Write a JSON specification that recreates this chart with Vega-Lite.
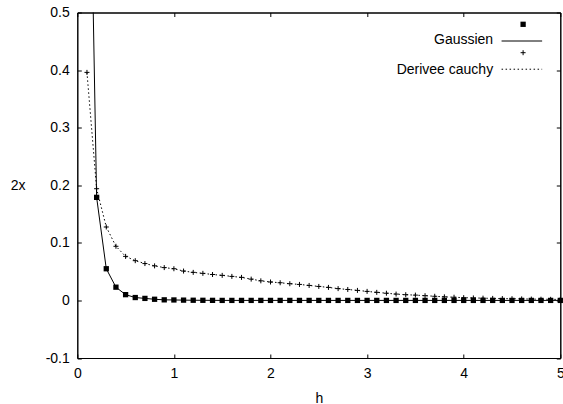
{
  "$schema": "https://vega.github.io/schema/vega-lite/v6.json",
  "width": 483,
  "height": 345.5,
  "autosize": {"type": "none"},
  "padding": {"left": 77.3, "top": 12.5, "right": 2.7, "bottom": 46},
  "background": "white",
  "config": {
    "view": {"stroke": "black", "strokeWidth": 1},
    "font": "Liberation Sans",
    "axis": {
      "grid": false,
      "domainColor": "black",
      "tickColor": "black",
      "labelColor": "black",
      "titleColor": "black",
      "labelFont": "Liberation Sans",
      "titleFont": "Liberation Sans",
      "labelFontSize": 14,
      "titleFontSize": 14,
      "titleFontWeight": "normal",
      "tickSize": -4,
      "labelFlush": false,
      "labelOverlap": false
    }
  },
  "datasets": {
    "one": [{}]
  },
  "data": {
    "values": [
      {"h": 0.1, "v": 1.1, "series": "Gaussien"},
      {"h": 0.2, "v": 0.179, "series": "Gaussien"},
      {"h": 0.3, "v": 0.055, "series": "Gaussien"},
      {"h": 0.4, "v": 0.023, "series": "Gaussien"},
      {"h": 0.5, "v": 0.010, "series": "Gaussien"},
      {"h": 0.6, "v": 0.005, "series": "Gaussien"},
      {"h": 0.7, "v": 0.0035, "series": "Gaussien"},
      {"h": 0.8, "v": 0.002, "series": "Gaussien"},
      {"h": 0.9, "v": 0.001, "series": "Gaussien"},
      {"h": 1.0, "v": 0.0008, "series": "Gaussien"},
      {"h": 1.1, "v": 0.0005, "series": "Gaussien"},
      {"h": 1.2, "v": 0.0003, "series": "Gaussien"},
      {"h": 1.3, "v": 0.0002, "series": "Gaussien"},
      {"h": 1.4, "v": 0.0001, "series": "Gaussien"},
      {"h": 1.5, "v": 0, "series": "Gaussien"},
      {"h": 1.6, "v": 0, "series": "Gaussien"},
      {"h": 1.7, "v": 0, "series": "Gaussien"},
      {"h": 1.8, "v": 0, "series": "Gaussien"},
      {"h": 1.9, "v": 0, "series": "Gaussien"},
      {"h": 2.0, "v": 0, "series": "Gaussien"},
      {"h": 2.1, "v": 0, "series": "Gaussien"},
      {"h": 2.2, "v": 0, "series": "Gaussien"},
      {"h": 2.3, "v": 0, "series": "Gaussien"},
      {"h": 2.4, "v": 0, "series": "Gaussien"},
      {"h": 2.5, "v": 0, "series": "Gaussien"},
      {"h": 2.6, "v": 0, "series": "Gaussien"},
      {"h": 2.7, "v": 0, "series": "Gaussien"},
      {"h": 2.8, "v": 0, "series": "Gaussien"},
      {"h": 2.9, "v": 0, "series": "Gaussien"},
      {"h": 3.0, "v": 0, "series": "Gaussien"},
      {"h": 3.1, "v": 0, "series": "Gaussien"},
      {"h": 3.2, "v": 0, "series": "Gaussien"},
      {"h": 3.3, "v": 0, "series": "Gaussien"},
      {"h": 3.4, "v": 0, "series": "Gaussien"},
      {"h": 3.5, "v": 0, "series": "Gaussien"},
      {"h": 3.6, "v": 0, "series": "Gaussien"},
      {"h": 3.7, "v": 0, "series": "Gaussien"},
      {"h": 3.8, "v": 0, "series": "Gaussien"},
      {"h": 3.9, "v": 0, "series": "Gaussien"},
      {"h": 4.0, "v": 0, "series": "Gaussien"},
      {"h": 4.1, "v": 0, "series": "Gaussien"},
      {"h": 4.2, "v": 0, "series": "Gaussien"},
      {"h": 4.3, "v": 0, "series": "Gaussien"},
      {"h": 4.4, "v": 0, "series": "Gaussien"},
      {"h": 4.5, "v": 0, "series": "Gaussien"},
      {"h": 4.6, "v": 0, "series": "Gaussien"},
      {"h": 4.7, "v": 0, "series": "Gaussien"},
      {"h": 4.8, "v": 0, "series": "Gaussien"},
      {"h": 4.9, "v": 0, "series": "Gaussien"},
      {"h": 5.0, "v": 0, "series": "Gaussien"},
      {"h": 0.1, "v": 0.396, "series": "Derivee cauchy"},
      {"h": 0.2, "v": 0.194, "series": "Derivee cauchy"},
      {"h": 0.3, "v": 0.1275, "series": "Derivee cauchy"},
      {"h": 0.4, "v": 0.094, "series": "Derivee cauchy"},
      {"h": 0.5, "v": 0.0765, "series": "Derivee cauchy"},
      {"h": 0.6, "v": 0.069, "series": "Derivee cauchy"},
      {"h": 0.7, "v": 0.064, "series": "Derivee cauchy"},
      {"h": 0.8, "v": 0.060, "series": "Derivee cauchy"},
      {"h": 0.9, "v": 0.057, "series": "Derivee cauchy"},
      {"h": 1.0, "v": 0.055, "series": "Derivee cauchy"},
      {"h": 1.1, "v": 0.051, "series": "Derivee cauchy"},
      {"h": 1.2, "v": 0.0487, "series": "Derivee cauchy"},
      {"h": 1.3, "v": 0.047, "series": "Derivee cauchy"},
      {"h": 1.4, "v": 0.045, "series": "Derivee cauchy"},
      {"h": 1.5, "v": 0.0435, "series": "Derivee cauchy"},
      {"h": 1.6, "v": 0.0417, "series": "Derivee cauchy"},
      {"h": 1.7, "v": 0.040, "series": "Derivee cauchy"},
      {"h": 1.8, "v": 0.037, "series": "Derivee cauchy"},
      {"h": 1.9, "v": 0.034, "series": "Derivee cauchy"},
      {"h": 2.0, "v": 0.032, "series": "Derivee cauchy"},
      {"h": 2.1, "v": 0.0307, "series": "Derivee cauchy"},
      {"h": 2.2, "v": 0.029, "series": "Derivee cauchy"},
      {"h": 2.3, "v": 0.0278, "series": "Derivee cauchy"},
      {"h": 2.4, "v": 0.026, "series": "Derivee cauchy"},
      {"h": 2.5, "v": 0.0243, "series": "Derivee cauchy"},
      {"h": 2.6, "v": 0.0226, "series": "Derivee cauchy"},
      {"h": 2.7, "v": 0.0205, "series": "Derivee cauchy"},
      {"h": 2.8, "v": 0.019, "series": "Derivee cauchy"},
      {"h": 2.9, "v": 0.0174, "series": "Derivee cauchy"},
      {"h": 3.0, "v": 0.0157, "series": "Derivee cauchy"},
      {"h": 3.1, "v": 0.014, "series": "Derivee cauchy"},
      {"h": 3.2, "v": 0.0125, "series": "Derivee cauchy"},
      {"h": 3.3, "v": 0.011, "series": "Derivee cauchy"},
      {"h": 3.4, "v": 0.0099, "series": "Derivee cauchy"},
      {"h": 3.5, "v": 0.0092, "series": "Derivee cauchy"},
      {"h": 3.6, "v": 0.0082, "series": "Derivee cauchy"},
      {"h": 3.7, "v": 0.0072, "series": "Derivee cauchy"},
      {"h": 3.8, "v": 0.0062, "series": "Derivee cauchy"},
      {"h": 3.9, "v": 0.0055, "series": "Derivee cauchy"},
      {"h": 4.0, "v": 0.0048, "series": "Derivee cauchy"},
      {"h": 4.1, "v": 0.0043, "series": "Derivee cauchy"},
      {"h": 4.2, "v": 0.0039, "series": "Derivee cauchy"},
      {"h": 4.3, "v": 0.0035, "series": "Derivee cauchy"},
      {"h": 4.4, "v": 0.0032, "series": "Derivee cauchy"},
      {"h": 4.5, "v": 0.0029, "series": "Derivee cauchy"},
      {"h": 4.6, "v": 0.0026, "series": "Derivee cauchy"},
      {"h": 4.7, "v": 0.0023, "series": "Derivee cauchy"},
      {"h": 4.8, "v": 0.0021, "series": "Derivee cauchy"},
      {"h": 4.9, "v": 0.0019, "series": "Derivee cauchy"},
      {"h": 5.0, "v": 0.0017, "series": "Derivee cauchy"}
    ]
  },
  "resolve": {"axis": {"x": "independent", "y": "independent"}},
  "layer": [
    {
      "transform": [{"filter": "datum.series == 'Gaussien'"}],
      "mark": {"type": "line", "color": "black", "strokeWidth": 1, "clip": true},
      "encoding": {
        "x": {
          "field": "h", "type": "quantitative",
          "scale": {"domain": [0, 5], "nice": false, "zero": false},
          "axis": {
            "orient": "bottom", "title": "h", "values": [0, 1, 2, 3, 4, 5],
            "format": "d", "labelPadding": 12,
            "titleBaseline": "alphabetic", "titleY": 44, "titleX": 241.5
          }
        },
        "y": {
          "field": "v", "type": "quantitative",
          "scale": {"domain": [-0.1, 0.5], "nice": false, "zero": false},
          "axis": {
            "orient": "left", "title": "2x",
            "values": [-0.1, 0, 0.1, 0.2, 0.3, 0.4, 0.5],
            "labelExpr": "datum.value == 0 ? '0' : (datum.value < 0 ? '-' : '') + format(abs(datum.value), '.1f')",
            "labelPadding": 12,
            "titleAngle": 0, "titleAlign": "left", "titleBaseline": "middle",
            "titleX": -67, "titleY": 172.75
          }
        }
      }
    },
    {
      "transform": [{"filter": "datum.series == 'Derivee cauchy'"}],
      "mark": {"type": "line", "color": "black", "strokeWidth": 1, "strokeDash": [1.5, 2.5], "clip": true},
      "encoding": {
        "x": {
          "field": "h", "type": "quantitative",
          "axis": {"orient": "top", "title": null, "labels": false, "values": [0, 1, 2, 3, 4, 5]}
        },
        "y": {
          "field": "v", "type": "quantitative",
          "axis": {"orient": "right", "title": null, "labels": false, "values": [-0.1, 0, 0.1, 0.2, 0.3, 0.4, 0.5]}
        }
      }
    },
    {
      "transform": [{"filter": "datum.series == 'Gaussien' && datum.v <= 0.5"}],
      "mark": {"type": "point", "shape": "square", "filled": true, "color": "black", "size": 28, "opacity": 1},
      "encoding": {
        "x": {"field": "h", "type": "quantitative", "axis": null},
        "y": {"field": "v", "type": "quantitative", "axis": null}
      }
    },
    {
      "transform": [{"filter": "datum.series == 'Derivee cauchy' && datum.v <= 0.5"}],
      "mark": {"type": "point", "shape": "M-1,0H1M0,-1V1", "filled": false, "stroke": "black", "strokeWidth": 1, "size": 25, "opacity": 1},
      "encoding": {
        "x": {"field": "h", "type": "quantitative", "axis": null},
        "y": {"field": "v", "type": "quantitative", "axis": null}
      }
    },
    {
      "data": {"name": "one"},
      "mark": {"type": "text", "text": "Gaussien", "align": "right", "baseline": "middle", "fontSize": 14, "font": "Liberation Sans", "color": "black"},
      "encoding": {
        "x": {"datum": 4.305, "type": "quantitative", "axis": null},
        "y": {"datum": 0.452, "type": "quantitative", "axis": null}
      }
    },
    {
      "data": {"name": "one"},
      "mark": {"type": "text", "text": "Derivee cauchy", "align": "right", "baseline": "middle", "fontSize": 14, "font": "Liberation Sans", "color": "black"},
      "encoding": {
        "x": {"datum": 4.305, "type": "quantitative", "axis": null},
        "y": {"datum": 0.4, "type": "quantitative", "axis": null}
      }
    },
    {
      "data": {"name": "one"},
      "mark": {"type": "rule", "color": "black", "strokeWidth": 1},
      "encoding": {
        "x": {"datum": 4.392, "type": "quantitative", "axis": null},
        "x2": {"datum": 4.812},
        "y": {"datum": 0.4505, "type": "quantitative", "axis": null}
      }
    },
    {
      "data": {"name": "one"},
      "mark": {"type": "rule", "color": "black", "strokeWidth": 1, "strokeDash": [1.5, 2.5]},
      "encoding": {
        "x": {"datum": 4.392, "type": "quantitative", "axis": null},
        "x2": {"datum": 4.812},
        "y": {"datum": 0.4015, "type": "quantitative", "axis": null}
      }
    },
    {
      "data": {"name": "one"},
      "mark": {"type": "point", "shape": "square", "filled": true, "color": "black", "size": 28, "opacity": 1},
      "encoding": {
        "x": {"datum": 4.615, "type": "quantitative", "axis": null},
        "y": {"datum": 0.4795, "type": "quantitative", "axis": null}
      }
    },
    {
      "data": {"name": "one"},
      "mark": {"type": "point", "shape": "M-1,0H1M0,-1V1", "filled": false, "stroke": "black", "strokeWidth": 1, "size": 25, "opacity": 1},
      "encoding": {
        "x": {"datum": 4.615, "type": "quantitative", "axis": null},
        "y": {"datum": 0.4302, "type": "quantitative", "axis": null}
      }
    }
  ]
}
